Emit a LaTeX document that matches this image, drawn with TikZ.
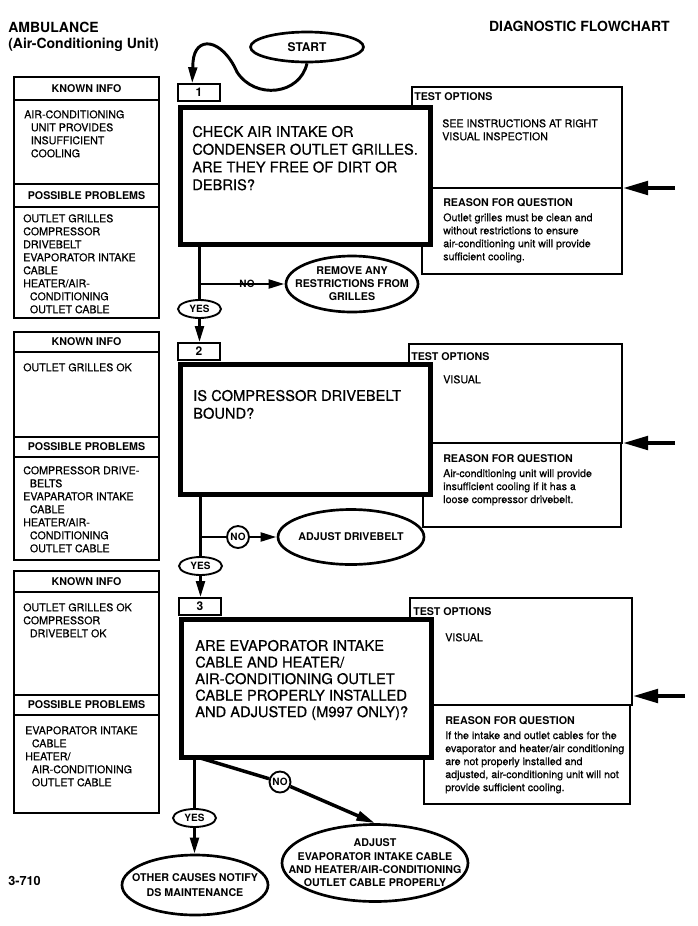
\documentclass[tikz,border=0pt]{standalone}
\usepackage{fontspec}
\setmainfont{TeX Gyre Heros}
\newfontfamily\medfont{TeX Gyre Heros}[FakeBold=0.6]
\usetikzlibrary{arrows.meta,shapes.geometric,fit,calc}
\newcommand\smfont{\medfont\fontsize{8}{9.75}\selectfont}
\newcommand\hdfont{\bfseries\fontsize{8}{9.75}\selectfont}
\newcommand\qfont{\medfont\fontsize{11}{13.3}\selectfont}
\newcommand\ynfont{\bfseries\fontsize{7.5}{9}\selectfont}
\newcommand\titfont{\bfseries\fontsize{10.5}{12.6}\selectfont}
\newcommand\indt{\hspace*{5pt}}
\begin{document}
\begin{tikzpicture}[x=0.75pt,y=-0.75pt,
  box/.style={draw, line width=1.1pt, inner sep=0pt, fill=white},
  tbox/.style={draw, line width=1.3pt, inner sep=0pt, fill=white},
  qbox/.style={draw, line width=3.75pt, inner sep=0pt, fill=white},
  lab/.style={draw, line width=1.2pt, fill=white, minimum width=31.5pt, minimum height=12.75pt, inner sep=0pt, font=\bfseries\fontsize{9}{10}\selectfont},
  oval/.style={draw, ellipse, line width=2pt, inner sep=0pt},
  yn/.style={draw, ellipse, line width=1.4pt, inner sep=0pt, fill=white, minimum width=32.25pt, minimum height=13.5pt, font=\ynfont},
  nocirc/.style={draw, circle, line width=1.4pt, inner sep=0pt, fill=white, minimum size=16.5pt, font=\ynfont},
  txt/.style={font=\smfont, align=left, inner sep=0pt, anchor=north west},
  qtxt/.style={font=\qfont, align=left, inner sep=0pt, anchor=north west},
  hd/.style={font=\hdfont, inner sep=0pt},
  etxt/.style={font=\hdfont, align=center, inner sep=0pt},
  conn/.style={line width=2.2pt},
  arr/.style={line width=2.2pt, -{Triangle[length=12pt,width=6.5pt]}},
  bigarr/.style={line width=3.2pt, -{Triangle[length=19pt,width=10pt]}},
]
\useasboundingbox (0,0) rectangle (698,926);

% ---------------- header
\node[font=\titfont, anchor=base west, inner sep=0pt] (amb) at (8,32) {AMBULANCE};
\node[font=\titfont, anchor=base west, inner sep=0pt] (acu) at (8,48) {(Air-Conditioning Unit)};
\node[font=\titfont, anchor=base east, inner sep=0pt] (dfc) at (670,31) {DIAGNOSTIC FLOWCHART};

\node[oval, minimum width=84.75pt, minimum height=22.5pt] (start) at (307,47) {};
\node[font=\bfseries\fontsize{9}{10}\selectfont, inner sep=0pt] (startT) at (start) {START};

% ---------------- step 1
\node[box, fit={(14,77) (159,100)}] (kh1) {};
\node[box, fit={(14,100) (159,184)}] (kc1) {};
\node[box, fit={(14,184) (159,207)}] (ph1) {};
\node[box, fit={(14,207) (159,318)}] (pc1) {};
\node[hd] (kht1) at (kh1) {KNOWN INFO};
\node[hd] (pht1) at (ph1) {POSSIBLE PROBLEMS};
\node[txt] (kt1) at (24,110) {AIR-CONDITIONING\\\indt UNIT PROVIDES\\\indt INSUFFICIENT\\\indt COOLING};
\node[txt] (pt1) at (23,214) {OUTLET GRILLES\\COMPRESSOR\\DRIVEBELT\\EVAPORATOR INTAKE\\CABLE\\HEATER/AIR-\\\indt CONDITIONING\\\indt OUTLET CABLE};

\node[tbox, fit={(412,87) (622,188)}] (t1) {};
\node[tbox, fit={(422,188) (622,274)}] (r1) {};
\node[qbox, fit={(180.5,107.5) (430.5,244.5)}] (q1) {};
\node[lab] (n1) at (199,92.5) {1};
\node[qtxt] (qt1) at (192,125.7) {CHECK AIR INTAKE OR\\CONDENSER OUTLET GRILLES.\\ARE THEY FREE OF DIRT OR\\DEBRIS?};
\node[hd, anchor=base west] (to1) at (414,100) {TEST OPTIONS};
\node[txt] (tv1) at (442,119) {SEE INSTRUCTIONS AT RIGHT\\VISUAL INSPECTION};
\node[hd, anchor=base west] (rq1) at (443,206) {REASON FOR QUESTION};
\node[txt] (rt1) at (443,213) {Outlet grilles must be clean and\\without restrictions to ensure\\air-conditioning unit will provide\\sufficient cooling.};
\coordinate (in1) at (675,188);

\node[yn] (yes1) at (199.5,309) {YES};
\node[oval, minimum width=99pt, minimum height=42pt] (rem1) at (352,284) {};
\node[etxt] (rem1T) at (rem1) {REMOVE ANY\\RESTRICTIONS FROM\\GRILLES};
\coordinate (j1) at (199.5,284);

% ---------------- step 2
\node[box, fit={(14,332) (159,352)}] (kh2) {};
\node[box, fit={(14,352) (159,437)}] (kc2) {};
\node[box, fit={(14,437) (159,457)}] (ph2) {};
\node[box, fit={(14,457) (159,560)}] (pc2) {};
\node[hd] (kht2) at (kh2) {KNOWN INFO};
\node[hd] (pht2) at (ph2) {POSSIBLE PROBLEMS};
\node[txt] (kt2) at (23,363) {OUTLET GRILLES OK};
\node[txt] (pt2) at (23,466) {COMPRESSOR DRIVE-\\\indt BELTS\\EVAPARATOR INTAKE\\\indt CABLE\\HEATER/AIR-\\\indt CONDITIONING\\\indt OUTLET CABLE};

\node[tbox, fit={(409,344) (622,443)}] (t2) {};
\node[tbox, fit={(423,443) (621,527)}] (r2) {};
\node[qbox, fit={(180.5,364.5) (430.5,494)}] (q2) {};
\node[lab] (n2) at (199,351.5) {2};
\node[qtxt] (qt2) at (193,389.7) {IS COMPRESSOR DRIVEBELT\\BOUND?};
\node[hd, anchor=base west] (to2) at (411,360) {TEST OPTIONS};
\node[txt] (tv2) at (443,375) {VISUAL};
\node[hd, anchor=base west] (rq2) at (443,462) {REASON FOR QUESTION};
\node[txt] (rt2) at (443,469) {Air-conditioning unit will provide\\insufficient cooling if it has a\\loose compressor drivebelt.};
\coordinate (in2) at (675,443);

\node[yn] (yes2) at (200.5,566) {YES};
\node[nocirc] (no2) at (238,537) {NO};
\node[oval, minimum width=109.5pt, minimum height=41.25pt] (adj2) at (351,537) {};
\node[etxt] (adj2T) at (adj2) {ADJUST DRIVEBELT};
\coordinate (j2) at (200.5,537);

% ---------------- step 3
\node[box, fit={(14,571) (159,592)}] (kh3) {};
\node[box, fit={(14,592) (159,695)}] (kc3) {};
\node[box, fit={(14,695) (159,715)}] (ph3) {};
\node[box, fit={(14,715) (159,813)}] (pc3) {};
\node[hd] (kht3) at (kh3) {KNOWN INFO};
\node[hd] (pht3) at (ph3) {POSSIBLE PROBLEMS};
\node[txt] (kt3) at (23,603) {OUTLET GRILLES OK\\COMPRESSOR\\\indt DRIVEBELT OK};
\node[txt] (pt3) at (25,726) {EVAPORATOR INTAKE\\\indt CABLE\\HEATER/\\\indt AIR-CONDITIONING\\\indt OUTLET CABLE};

\node[tbox, fit={(410,598) (632,705)}] (t3) {};
\node[tbox, fit={(424,705) (630,804)}] (r3) {};
\node[qbox, fit={(181.5,619.5) (431,757)}] (q3) {};
\node[lab] (n3) at (200,606.5) {3};
\node[qtxt, font=\medfont\fontsize{11}{12.4}\selectfont] (qt3) at (195,639.7) {ARE EVAPORATOR INTAKE\\CABLE AND HEATER/\\AIR-CONDITIONING OUTLET\\CABLE PROPERLY INSTALLED\\AND ADJUSTED (M997 ONLY)?};
\node[hd, anchor=base west] (to3) at (413,615) {TEST OPTIONS};
\node[txt] (tv3) at (445,633) {VISUAL};
\node[hd, anchor=base west] (rq3) at (445,724) {REASON FOR QUESTION};
\node[txt] (rt3) at (445,731) {If the intake and outlet cables for the\\evaporator and heater/air conditioning\\are not properly installed and\\adjusted, air-conditioning unit will not\\provide sufficient cooling.};
\coordinate (in3) at (685,696);

\node[yn] (yes3) at (194.5,818) {YES};
\node[nocirc, minimum size=15.75pt] (no3) at (280,782) {NO};
\node[oval, minimum width=109.5pt, minimum height=45pt] (oth) at (195,885) {};
\node[etxt, font=\bfseries\fontsize{8}{10.8}\selectfont] (othT) at (oth) {OTHER CAUSES NOTIFY\\DS MAINTENANCE};
\node[oval, minimum width=139.5pt, minimum height=57.75pt] (adj3) at (375,863) {};
\node[etxt, font=\bfseries\fontsize{8}{10}\selectfont] (adj3T) at (adj3) {ADJUST\\EVAPORATOR INTAKE CABLE\\AND HEATER/AIR-CONDITIONING\\OUTLET CABLE PROPERLY};
\coordinate (j3) at (197,757);

\node[font=\bfseries\fontsize{9.5}{11}\selectfont, anchor=base west, inner sep=0pt] (pg) at (8,885) {3-710};

% ---------------- connectors
\coordinate (a1) at ($(n1.north west)+(15,0)$);
\draw[arr] (start.south) .. controls (300,95) and (255,100) .. (237,72)
   .. controls (222,38) and (195,35) .. (193,62) -- (a1);

\draw[bigarr] (in1) -- (in1 -| t1.east);
\draw[bigarr] (in2) -- (in2 -| t2.east);
\draw[bigarr] (in3) -- (in3 -| t3.east);

\draw[conn] (yes1.north |- q1.south) -- (yes1.north);
\draw[arr] (j1) -- (rem1.west);
\node[font=\ynfont, inner sep=0pt] (no1) at (247,284) {NO};
\draw[arr] (yes1.south) -- (yes1.south |- n2.north);

\draw[conn] (yes2.north |- q2.south) -- (yes2.north);
\draw[conn] (j2) -- (no2.west);
\draw[arr] (no2.east) -- (adj2.west);
\draw[arr] (yes2.south) -- (yes2.south |- n3.north);

\draw[conn] (yes3.north |- q3.south) -- (yes3.north);
\draw[arr] (yes3.south) -- (yes3.south |- oth.north);
\draw[line width=2.6pt] (j3) -- (no3);
\draw[line width=2.6pt, -{Triangle[length=14pt,width=7pt]}] (no3) -- (adj3.north);
\end{tikzpicture}
\end{document}
